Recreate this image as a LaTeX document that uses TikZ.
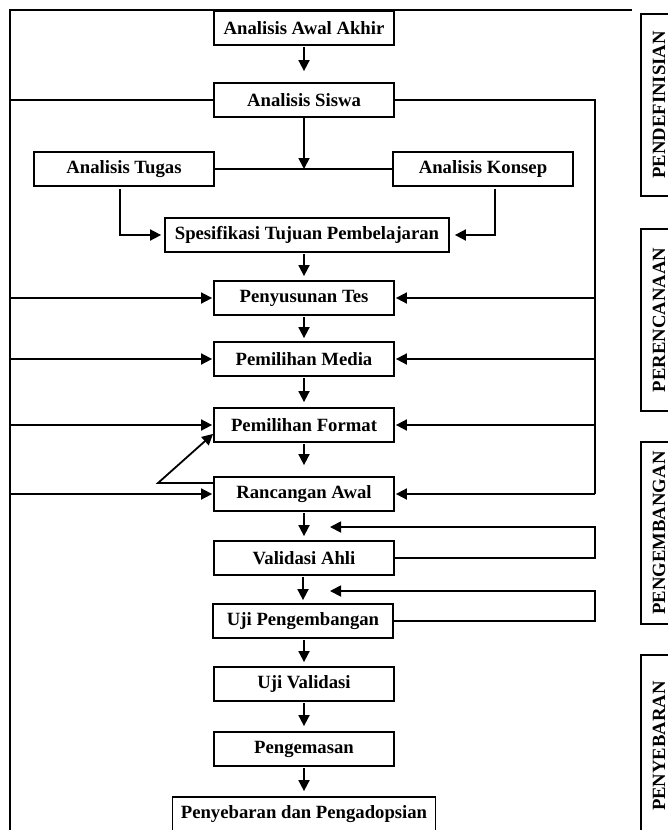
\documentclass[tikz,border=0pt]{standalone}
\usepackage{fontspec}
\setmainfont{Liberation Serif}
\usetikzlibrary{arrows.meta}
\newcommand\stagefont{\bfseries\fontsize{18.7}{21}\selectfont}
\tikzset{
  wire/.style={line width=1.8pt},
  flow/.style={line width=1.8pt, -{Triangle[length=11pt,width=11pt]}},
  stage/.style={draw, line width=1.8pt, minimum width=180pt, minimum height=34pt, inner sep=0pt, font=\stagefont},
  phase/.style={draw, line width=1.8pt, rotate=90, minimum width=182pt, minimum height=36pt, inner sep=0pt, font=\stagefont}
}
\begin{document}
\begin{tikzpicture}[x=1pt,y=-1pt]
  \useasboundingbox (0,0) rectangle (668,830);
  \fill[white] (0,0) rectangle (668,830);
  \clip (0,0) rectangle (668,830);

  \node[stage] (awal) at (304,28) {Analisis Awal Akhir};
  \node[stage] (siswa) at (304,100) {Analisis Siswa};
  \node[stage] (tugas) at (124,169) {Analisis Tugas};
  \node[stage] (konsep) at (483,169) {Analisis Konsep};
  \node[stage, minimum width=284pt] (tujuan) at (307,235) {Spesifikasi Tujuan Pembelajaran};
  \node[stage] (tes) at (304,298) {Penyusunan Tes};
  \node[stage] (media) at (304,359) {Pemilihan Media};
  \node[stage] (format) at (304,425) {Pemilihan Format};
  \node[stage] (rancangan) at (304,494) {Rancangan Awal};
  \node[stage] (ahli) at (304,558) {Validasi Ahli};
  \node[stage] (ujikembang) at (303,621) {Uji Pengembangan};
  \node[stage] (ujivalid) at (304,684) {Uji Validasi};
  \node[stage] (kemas) at (304,749) {Pengemasan};
  \node[stage, minimum width=263pt] (sebar) at (304,814) {Penyebaran dan Pengadopsian};

  \node[phase] (definisi) at (659,105) {PENDEFINISIAN};
  \node[phase] (rencana) at (659,320) {PERENCANAAN};
  \node[phase] (kembang) at (659,533) {PENGEMBANGAN};
  \node[phase] (sebaran) at (659,746) {PENYEBARAN};

  % frame and loops
  \coordinate (tl) at (10,10);
  \coordinate (tr) at (632,10);
  \coordinate (bl) at (10,840);
  \coordinate (loopL) at (10,100);
  \coordinate (loopR) at (595,100);
  \coordinate (kink) at (158,483);
  \coordinate (back1) at (330,527);
  \coordinate (back2) at (330,591);

  \draw[wire] (tr) -- (tl) -- (bl);
  \draw[wire] (siswa.west) -- (loopL);
  \draw[wire] (siswa.east) -- (loopR) -- (loopR |- rancangan.east);
  \foreach \n in {tes,media,format,rancangan} {
    \draw[flow, shorten >=1pt] (loopL |- \n.west) -- (\n.west);
    \draw[flow, shorten >=1pt] (loopR |- \n.east) -- (\n.east);
  }

  \foreach \a/\b/\g in {awal/siswa/11, tujuan/tes/4, tes/media/3, media/format/5,
      format/rancangan/11, rancangan/ahli/4, ahli/ujikembang/3,
      ujikembang/ujivalid/4, ujivalid/kemas/5, kemas/sebar/5}
    \draw[flow, shorten <=1pt, shorten >=\g pt] (\b.north |- \a.south) -- (\b.north);

  \draw[wire] (tugas.east) -- (konsep.west);
  \draw[flow] (siswa.south) -- (siswa.south |- tugas.east);
  \draw[flow, shorten <=2pt, shorten >=3pt] ([xshift=-4pt]tugas.south) |- (tujuan.west);
  \draw[flow, shorten <=2pt, shorten >=5pt] ([xshift=12pt]konsep.south) |- (tujuan.east);

  \draw[flow] ([yshift=11pt]rancangan.west) -- (kink) -- ([yshift=9pt]format.south west);

  \draw[flow] (ahli.east) -- (loopR |- ahli.east) -- (loopR |- back1) -- (back1);
  \draw[flow] (ujikembang.east) -- (loopR |- ujikembang.east) -- (loopR |- back2) -- (back2);
\end{tikzpicture}
\end{document}
